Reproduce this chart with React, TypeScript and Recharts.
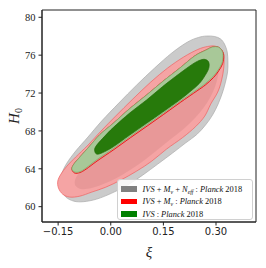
import React from 'react';
import { ScatterChart, Scatter, XAxis, YAxis, ReferenceArea } from 'recharts';

// axis ranges / ticks
const xiDomain = [-0.196, 0.414];
const h0Domain = [58.38, 80.77];
const xiTicks = [-0.15, 0, 0.15, 0.3];
const h0Ticks = [60, 64, 68, 72, 76, 80];

// contour outlines as [xi, H0] vertices
const grayOuter = [
  [0.273, 78.02], [0.296, 77.97], [0.313, 77.71], [0.324, 77.18], [0.332, 76.33],
  [0.334, 75.28], [0.333, 74.22], [0.327, 73.16], [0.319, 72.11], [0.306, 70.84],
  [0.29, 69.67], [0.27, 68.62], [0.245, 67.61], [0.213, 66.72], [0.176, 65.66],
  [0.134, 64.5], [0.091, 63.33], [0.048, 62.28], [0.003, 61.43], [-0.04, 60.8],
  [-0.077, 60.53], [-0.105, 60.58], [-0.128, 61.01], [-0.139, 61.75], [-0.142, 62.59],
  [-0.139, 63.54], [-0.125, 64.6], [-0.1, 65.87], [-0.065, 67.35], [-0.026, 69.04],
  [0.023, 70.94], [0.074, 72.85], [0.125, 74.64], [0.174, 76.23], [0.219, 77.39],
  [0.25, 77.87],
];
const grayInner = [
  [0.268, 76.33], [0.293, 76.55], [0.307, 76.12], [0.312, 75.28], [0.307, 74.01],
  [0.296, 72.53], [0.276, 71.05], [0.248, 69.67], [0.211, 68.3], [0.168, 67.03],
  [0.122, 65.66], [0.077, 64.39], [0.031, 63.33], [-0.014, 62.49], [-0.054, 61.96],
  [-0.083, 61.85], [-0.1, 62.17], [-0.102, 62.8], [-0.091, 63.54], [-0.065, 64.5],
  [-0.031, 65.66], [0.011, 67.14], [0.057, 68.83], [0.105, 70.52], [0.154, 72.21],
  [0.199, 73.8], [0.239, 75.28],
];
const redOuter = [
  [0.276, 76.92], [0.296, 76.97], [0.31, 76.76], [0.32, 76.33], [0.323, 75.7],
  [0.322, 74.64], [0.316, 73.37], [0.305, 72.11], [0.285, 70.84], [0.268, 69.57],
  [0.242, 68.46], [0.205, 67.3], [0.159, 66.08], [0.117, 64.81], [0.074, 63.76],
  [0.028, 62.8], [-0.014, 62.06], [-0.054, 61.54], [-0.088, 61.11], [-0.117, 61.01],
  [-0.137, 61.32], [-0.149, 61.96], [-0.151, 62.7], [-0.142, 63.44], [-0.125, 64.28],
  [-0.1, 65.24], [-0.065, 66.5], [-0.028, 67.98], [0.014, 69.57], [0.063, 71.37],
  [0.114, 73.16], [0.162, 74.64], [0.208, 75.81], [0.248, 76.6],
];
const redInner = [
  [-0.111, 63.97], [-0.105, 64.5], [-0.088, 65.24], [-0.06, 66.4], [-0.031, 67.61],
  [0.007, 68.8], [0.054, 70.36], [0.102, 71.79], [0.148, 73.22], [0.196, 74.61],
  [0.239, 75.91], [0.272, 76.55], [0.29, 76.86], [0.306, 76.86], [0.316, 76.55],
  [0.322, 76.0], [0.319, 75.12], [0.308, 74.36], [0.293, 73.64], [0.27, 72.86],
  [0.246, 72.23], [0.198, 71.0], [0.151, 69.75], [0.104, 68.52], [0.056, 67.28],
  [0.009, 66.03], [-0.039, 64.82], [-0.07, 63.97], [-0.088, 63.6], [-0.103, 63.55],
];
const greenOuter = [
  [-0.111, 63.97], [-0.105, 64.5], [-0.088, 65.24], [-0.06, 66.4], [-0.031, 67.61],
  [0.007, 68.8], [0.054, 70.36], [0.102, 71.79], [0.148, 73.22], [0.196, 74.61],
  [0.239, 75.91], [0.272, 76.55], [0.29, 76.86], [0.306, 76.86], [0.316, 76.55],
  [0.32, 76.02], [0.317, 75.17], [0.306, 74.43], [0.291, 73.72], [0.268, 72.95],
  [0.244, 72.32], [0.196, 71.1], [0.149, 69.85], [0.102, 68.62], [0.054, 67.38],
  [0.007, 66.13], [-0.041, 64.92], [-0.071, 64.07], [-0.088, 63.7], [-0.102, 63.65],
];
const greenInner = [
  [-0.046, 65.98], [-0.04, 66.5], [-0.017, 67.45], [0.007, 68.35], [0.054, 69.89],
  [0.102, 71.26], [0.148, 72.69], [0.196, 74.06], [0.234, 75.07], [0.256, 75.49],
  [0.27, 75.54], [0.279, 75.28], [0.28, 74.75], [0.273, 74.11], [0.253, 73.03],
  [0.225, 72.11], [0.196, 71.26], [0.148, 69.99], [0.102, 68.8], [0.054, 67.56],
  [0.007, 66.32], [-0.023, 65.71], [-0.04, 65.55],
];

const rows = (pts) => pts.map(([xi, h]) => ({ xi, h }));

// smooth closed outline through the projected points (catmull-rom)
function closedPath(points) {
  const p = points.filter((pt) => pt.x != null && pt.y != null);
  const n = p.length;
  if (!n) return '';
  let d = `M${p[0].x},${p[0].y}`;
  for (let i = 0; i < n; i++) {
    const p0 = p[(i - 1 + n) % n];
    const p1 = p[i];
    const p2 = p[(i + 1) % n];
    const p3 = p[(i + 2) % n];
    const c1x = p1.x + (p2.x - p0.x) / 6;
    const c1y = p1.y + (p2.y - p0.y) / 6;
    const c2x = p2.x - (p3.x - p1.x) / 6;
    const c2y = p2.y - (p3.y - p1.y) / 6;
    d += ` C${c1x},${c1y} ${c2x},${c2y} ${p2.x},${p2.y}`;
  }
  return d + 'Z';
}

const blob = (style) => (props) => <path d={closedPath(props.points)} {...style} />;
const noDot = () => <g />;

const layers = [
  { key: 'grayOuter', data: grayOuter, style: { fill: '#cbcbcb', stroke: '#ababab', strokeWidth: 0.7 } },
  { key: 'redOuter', data: redOuter, style: { fill: '#f5a4a4', stroke: '#f06060', strokeWidth: 0.7 } },
  { key: 'grayInner', data: grayInner, style: { fill: '#400000', fillOpacity: 0.07, stroke: 'none' } },
  { key: 'redInner', data: redInner, style: { fill: '#f08a8a', stroke: '#e81010', strokeWidth: 0.9 } },
  { key: 'greenOuter', data: greenOuter, style: { fill: '#a8c898', stroke: '#7ab06a', strokeWidth: 0.7 } },
  { key: 'greenInner', data: greenInner, style: { fill: '#277a0b', stroke: '#1f6c06', strokeWidth: 0.7 } },
];

const fmtXi = (v) => (v < 0 ? '\u2212' : '') + Math.abs(v).toFixed(2);

const XiLabel = ({ viewBox }) => (
  <text
    x={viewBox.x + viewBox.width / 2}
    y={257}
    textAnchor="middle"
    fontFamily="Liberation Serif"
    fontStyle="italic"
    fontSize={15}
    fill="#222"
  >
    ξ
  </text>
);

const H0Label = () => (
  <text
    x={18.5}
    y={116}
    transform="rotate(-90, 18.5, 116)"
    textAnchor="middle"
    fontFamily="Liberation Serif"
    fontStyle="italic"
    fontSize={15}
    fill="#222"
  >
    H
    <tspan dy={3} fontSize={10} fontStyle="normal">0</tspan>
  </text>
);

const legendItems = [
  { color: '#808080', text: <><i>IVS</i> + <i>M</i><sub><i>ν</i></sub> + <i>N</i><sub><i>eff</i></sub> : <i>Planck</i> 2018</> },
  { color: '#ff0000', text: <><i>IVS</i> + <i>M</i><sub><i>ν</i></sub> : <i>Planck</i> 2018</> },
  { color: '#008000', text: <><i>IVS</i> : <i>Planck</i> 2018</> },
];

function ContourLegend() {
  return (
    <div
      style={{
        position: 'absolute',
        left: 117,
        top: 179,
        width: 134,
        height: 39,
        border: '1px solid #d0d0d0',
        borderRadius: 3,
        background: 'rgba(255,255,255,0.85)',
        fontFamily: 'Liberation Serif',
        fontSize: 8.4,
        color: '#111',
      }}
    >
      {legendItems.map((item, i) => (
        <div
          key={i}
          style={{ position: 'absolute', left: 3, top: 3.5 + i * 12.6, height: 11, display: 'flex', alignItems: 'center', whiteSpace: 'nowrap' }}
        >
          <span style={{ display: 'inline-block', width: 15.5, height: 5.5, background: item.color, marginRight: 6 }} />
          <span style={{ lineHeight: '11px' }}>{item.text}</span>
        </div>
      ))}
    </div>
  );
}

export default function App() {
  return (
    <div style={{ position: 'absolute', left: 0, top: 0, width: 266, height: 268, background: '#fff' }}>
      <style>{'sub{font-size:70%;vertical-align:-2px;line-height:0}'}</style>
      <ScatterChart width={266} height={268} margin={{ top: 10, right: 10, bottom: 0, left: 0 }}>
        <XAxis
          type="number"
          dataKey="xi"
          domain={xiDomain}
          ticks={xiTicks}
          allowDataOverflow
          height={46}
          tickSize={3.5}
          tickMargin={2.5}
          tickFormatter={fmtXi}
          tick={{ fontFamily: 'DejaVu Sans', fontSize: 10, fill: '#222' }}
          axisLine={{ stroke: '#222' }}
          tickLine={{ stroke: '#222' }}
          label={{ content: XiLabel }}
        />
        <YAxis
          type="number"
          dataKey="h"
          domain={h0Domain}
          ticks={h0Ticks}
          allowDataOverflow
          width={42}
          tickSize={3.5}
          tickMargin={3}
          tick={{ fontFamily: 'Liberation Serif', fontSize: 10.5, fill: '#222' }}
          axisLine={{ stroke: '#222' }}
          tickLine={{ stroke: '#222' }}
          label={{ content: H0Label }}
        />
        {layers.map((l) => (
          <Scatter
            key={l.key}
            name={l.key}
            data={rows(l.data)}
            line={blob(l.style)}
            shape={noDot}
            isAnimationActive={false}
          />
        ))}
        <ReferenceArea
          x1={xiDomain[0]}
          x2={xiDomain[1]}
          y1={h0Domain[0]}
          y2={h0Domain[1]}
          fill="none"
          stroke="#222"
          strokeWidth={1}
        />
      </ScatterChart>
      <ContourLegend />
    </div>
  );
}
